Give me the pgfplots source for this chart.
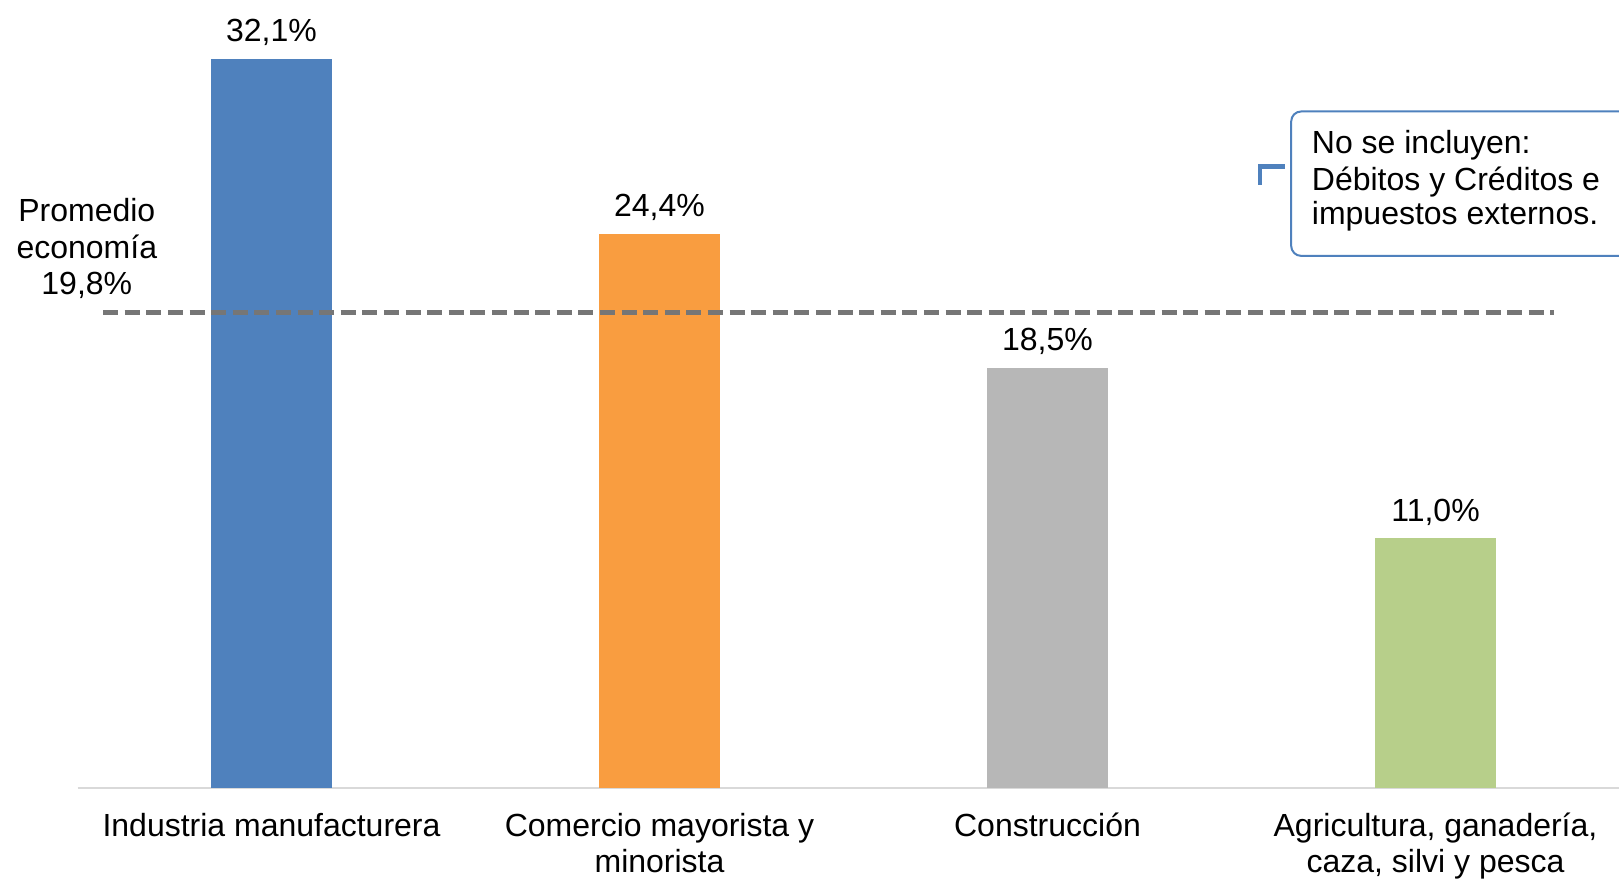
\documentclass[border=0pt]{standalone}
\usepackage{fontspec}
\setmainfont{Liberation Sans}
\usepackage{pgfplots}
\pgfplotsset{compat=1.18}

\definecolor{cblue}{RGB}{79,129,189}
\definecolor{corange}{RGB}{249,157,64}
\definecolor{cgray}{RGB}{183,183,183}
\definecolor{cgreen}{RGB}{183,207,138}
\definecolor{cdash}{RGB}{118,118,118}
\definecolor{caxis}{RGB}{217,217,217}

\begin{document}
\fontsize{16}{18}\selectfont
\begin{tikzpicture}
\begin{axis}[
    x=194pt, y=11.355pt,
    xmin=-0.5, xmax=3.473, ymin=0, ymax=34,
    axis x line=bottom, axis y line=none,
    axis line style={-, draw=caxis, line width=0.75pt},
    xtick={0,1,2,3},
    xticklabels={Industria manufacturera, {Comercio mayorista y\\minorista}, Construcción, {Agricultura, ganadería,\\caza, silvi y pesca}},
    xticklabel style={align=center, anchor=north, yshift=-7pt},
    major tick length=0pt,
    clip=false,
    /pgf/number format/assume math mode=true,
    nodes near coords={\pgfmathprintnumber[fixed, fixed zerofill, precision=1, use comma]{\pgfplotspointmeta}\%},
    nodes near coords style={anchor=base, yshift=8.5pt, text=black},
]
\addplot[ybar, bar width=60.5pt, fill=cblue, draw=none] coordinates {(0,32.1)};
\addplot[ybar, bar width=60.5pt, fill=corange, draw=none] coordinates {(1,24.4)};
\addplot[ybar, bar width=60.5pt, fill=cgray, draw=none] coordinates {(2,18.5)};
\addplot[ybar, bar width=60.5pt, fill=cgreen, draw=none] coordinates {(3,11.0)};

% promedio de la economia (linea discontinua)
\addplot[cdash, line width=2.5pt, dash pattern=on 7.5pt off 3.3pt, nodes near coords={}] coordinates {(-0.434,20.92) (3.305,20.92)};

\node[anchor=base] at (axis cs:-0.476,24.94) {Promedio};
\node[anchor=base] at (axis cs:-0.476,23.32) {economía};
\node[anchor=base] at (axis cs:-0.476,21.71) {19,8\%};

% nota
\draw[cblue, line width=1pt, rounded corners=5pt, fill=white] (axis cs:2.628,29.79) rectangle (axis cs:3.65,23.43);
\draw[cblue, line width=2.2pt] (axis cs:2.612,27.37) -- (axis cs:2.548,27.37) -- (axis cs:2.548,26.55);
\node[anchor=base west, inner sep=0pt] at (axis cs:2.6804,27.95) {No se incluyen:};
\node[anchor=base west, inner sep=0pt] at (axis cs:2.6804,26.33) {Débitos y Créditos e};
\node[anchor=base west, inner sep=0pt] at (axis cs:2.6804,24.79) {impuestos externos.};

\coordinate (bl) at (axis cs:-0.69974,-4.007);
\coordinate (tr) at (axis cs:3.4729,34.698);
\end{axis}
\pgfresetboundingbox
\useasboundingbox (bl) rectangle (tr);
\end{tikzpicture}
\end{document}
